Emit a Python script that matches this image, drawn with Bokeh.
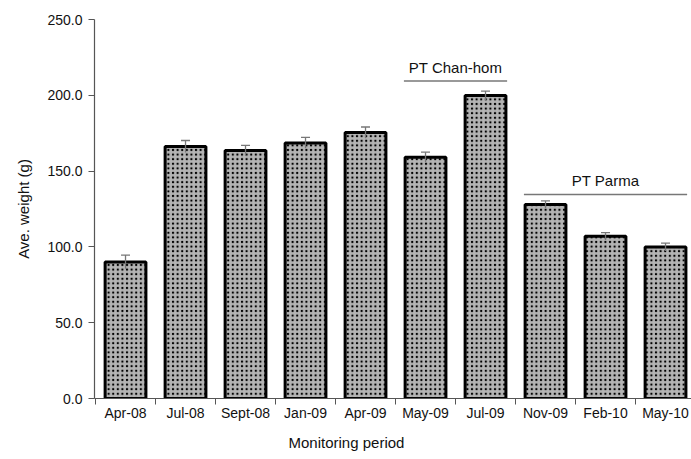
from bokeh.plotting import figure
from bokeh.models import ColumnDataSource, FixedTicker, Range1d, Label, Whisker, Title
from bokeh.embed import file_html
from bokeh.resources import INLINE

periods = ["Apr-08", "Jul-08", "Sept-08", "Jan-09", "Apr-09", "May-09", "Jul-09", "Nov-09", "Feb-10", "May-10"]
weights = [90.1, 166.2, 163.6, 168.6, 175.4, 159.2, 199.8, 127.9, 107.0, 99.9]
errors = [4.5, 4.0, 3.4, 3.6, 3.7, 3.3, 3.0, 2.4, 2.4, 2.6]
y_ticks = [0, 50, 100, 150, 200, 250]
groups = [("PT Chan-hom", 5, 6), ("PT Parma", 7, 9)]
group_line_y = [209.5, 134.5]
group_text_y = [212.8, 138.2]

xs = [i + 0.5 for i in range(len(periods))]
src = ColumnDataSource(dict(
    x=xs, top=weights,
    hi=[w + e for w, e in zip(weights, errors)],
    base=[w - e for w, e in zip(weights, errors)],
))

FONT = "Liberation Sans"

p = figure(width=691, height=459, output_backend="svg", toolbar_location=None,
           x_range=Range1d(-0.017, 9.933), y_range=Range1d(0, 250),
           min_border_left=94, min_border_right=0, min_border_top=19, min_border_bottom=60)
p.outline_line_color = None
p.grid.visible = False
p.background_fill_color = "white"

p.vbar(x="x", top="top", bottom=0, width=0.68, source=src,
       fill_color="#b4b4b4", line_color="black", line_width=3,
       hatch_pattern="dot", hatch_color="black", hatch_scale=4.6, hatch_weight=3)

p.segment(x0="x", y0="base", x1="x", y1="hi", source=src, line_color="#777777", line_width=1.3)
wk = Whisker(base="x", lower="hi", upper="hi", source=src, dimension="height",
             line_color="#777777", line_width=1.3)
wk.upper_head.size = 9
wk.upper_head.line_color = "#777777"
wk.upper_head.line_width = 1.3
wk.lower_head = None
p.add_layout(wk)

# axes
p.xaxis.ticker = FixedTicker(ticks=xs, minor_ticks=list(range(0, 11)))
p.xaxis.major_label_overrides = {x: lab for x, lab in zip(xs, periods)}
p.xaxis.major_tick_line_color = None
p.xaxis.major_tick_out = 0
p.xaxis.major_tick_in = 0
p.xaxis.minor_tick_line_color = "#555555"
p.xaxis.minor_tick_out = 6
p.xaxis.minor_tick_in = 0
p.xaxis.axis_line_color = "#555555"
p.xaxis.axis_line_width = 1.2
p.xaxis.major_label_text_font = FONT
p.xaxis.major_label_text_font_size = "14px"
p.xaxis.major_label_text_color = "#111111"
p.xaxis.major_label_standoff = 0

p.yaxis.ticker = FixedTicker(ticks=y_ticks, minor_ticks=[])
p.yaxis.major_label_overrides = {t: f"{t:.1f}" for t in y_ticks}
p.yaxis.major_tick_line_color = "#555555"
p.yaxis.major_tick_out = 6
p.yaxis.major_tick_in = 0
p.yaxis.axis_line_color = "#555555"
p.yaxis.axis_line_width = 1.2
p.yaxis.major_label_text_font = FONT
p.yaxis.major_label_text_font_size = "14px"
p.yaxis.major_label_text_color = "#111111"
p.yaxis.major_label_standoff = 6
p.yaxis.axis_label = "Ave. weight (g)"
p.yaxis.axis_label_text_font = FONT
p.yaxis.axis_label_text_font_size = "15px"
p.yaxis.axis_label_text_font_style = "normal"
p.yaxis.axis_label_text_color = "#111111"
p.yaxis.axis_label_standoff = 12

p.add_layout(Title(text="Monitoring period", align="left", offset=194, standoff=17,
                   vertical_align="bottom",
                   text_font=FONT, text_font_size="15px", text_font_style="normal",
                   text_color="#111111"), "below")

for (name, i0, i1), ly, ty in zip(groups, group_line_y, group_text_y):
    x0 = i0 + 0.14
    x1 = i1 + 0.86
    p.segment(x0=[x0], y0=[ly], x1=[x1], y1=[ly], line_color="#777777", line_width=1.5)
    p.add_layout(Label(x=(x0 + x1) / 2, y=ty, text=name, text_align="center",
                       text_baseline="bottom", text_font=FONT, text_font_size="15px",
                       text_color="#111111"))

open("out.html", "w").write(file_html(p, INLINE))
